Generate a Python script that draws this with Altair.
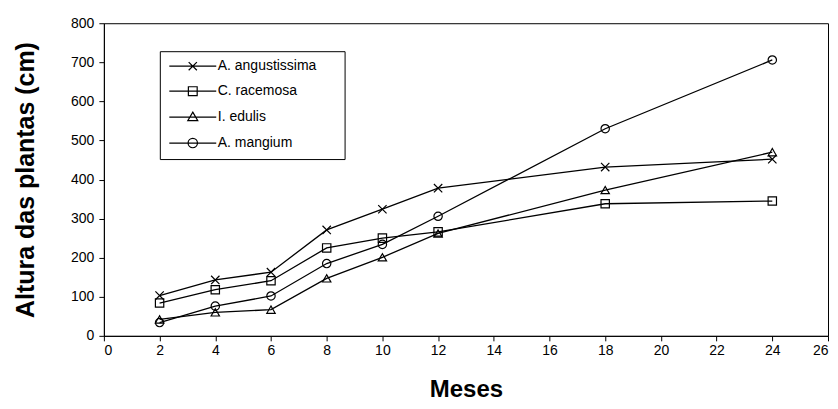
import altair as alt
import pandas as pd

meses = [2, 4, 6, 8, 10, 12, 18, 24]
especies = ["A. angustissima", "C. racemosa", "I. edulis", "A. mangium"]
angustissima = [103, 143, 163, 271, 324, 378, 432, 452]
racemosa = [84, 118, 141, 225, 250, 266, 338, 345]
edulis = [42, 60, 67, 147, 201, 262, 373, 470]
mangium = [34, 76, 102, 185, 234, 306, 530, 706]
x_ticks = list(range(0, 27, 2))
y_ticks = list(range(0, 801, 100))

series = [angustissima, racemosa, edulis, mangium]
rows = []
for nome, vals in zip(especies, series):
    for m, v in zip(meses, vals):
        rows.append({"Meses": m, "Altura": v, "Especie": nome})
df = pd.DataFrame(rows)

point_shapes = ["M-1,-1L1,1M-1,1L1,-1", "square", "triangle-up", "circle"]
pad_path = "M24,0L24,0"
legend_shapes = [
    "M-4,0H4M-0.7,-0.7L0.7,0.7M-0.7,0.7L0.7,-0.7" + pad_path,
    "M-4,0H4M-0.75,-0.75H0.75V0.75H-0.75Z" + pad_path,
    "M-4,0H4M0,-0.85L0.85,0.6H-0.85Z" + pad_path,
    "M-4,0H4M0.8,0A0.8,0.8,0,1,1,-0.8,0A0.8,0.8,0,1,1,0.8,0" + pad_path,
]

x_enc = alt.X("Meses:Q", scale=alt.Scale(domain=[0, 26], nice=False),
              axis=alt.Axis(values=x_ticks, title="Meses", format="d"))
y_enc = alt.Y("Altura:Q", scale=alt.Scale(domain=[0, 800], nice=False),
              axis=alt.Axis(values=y_ticks, title="Altura das plantas  (cm)", format="d"))

base = alt.Chart(df).encode(x=x_enc, y=y_enc)

lines = base.mark_line(color="black", strokeWidth=1.3).encode(
    detail="Especie:N"
)

points = base.mark_point(filled=False, color="black", strokeWidth=1.2, size=70, opacity=1).encode(
    shape=alt.Shape("Especie:N", scale=alt.Scale(domain=especies, range=point_shapes), legend=None)
)

legend_layer = base.mark_point(filled=False, color="black", strokeWidth=1.2, size=138, opacity=1).encode(
    shape=alt.Shape(
        "Especie:N",
        scale=alt.Scale(domain=especies, range=legend_shapes),
        sort=especies,
        legend=alt.Legend(
            title=None, orient="none", legendX=56, legendY=28,
            strokeColor="black", fillColor="white", padding=8,
            labelFontSize=14, labelFont="Liberation Sans", labelColor="black",
            symbolOffset=18, labelOffset=18, rowPadding=11,
            symbolStrokeColor="black", symbolStrokeWidth=1.2, symbolSize=138,
            symbolFillColor="transparent",
        ),
    )
).transform_filter("false")

chart = alt.layer(lines, points, legend_layer).resolve_scale(shape="independent").properties(
    width=725, height=313,
    autosize=alt.AutoSizeParams(type="none"),
    padding={"left": 96, "top": 15, "right": 2, "bottom": 70},
).configure_view(
    stroke="black", strokeWidth=1
).configure_axis(
    grid=False, domainColor="black", tickColor="black", domainWidth=1,
    tickSize=5, labelFont="Liberation Sans", labelFontSize=14, labelColor="black",
    titleFont="Liberation Sans", titleColor="black", titleFontWeight="bold",
).configure_axisX(
    labelPadding=3, titleFontSize=24, titlePadding=20,
).configure_axisY(
    labelPadding=5, titleFontSize=25, titlePadding=32,
)

chart.save("out.html", embed_options={"renderer": "svg", "actions": False})
